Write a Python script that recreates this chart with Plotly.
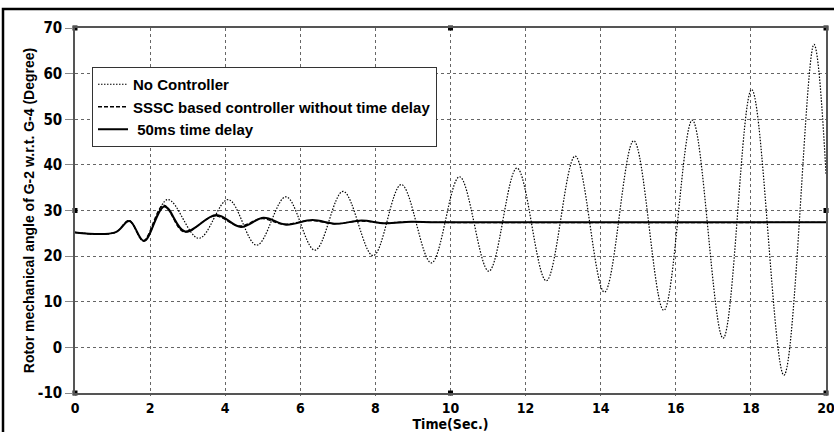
import plotly.graph_objects as go

# ---- data ----
t_noctrl = [0, 1.07, 1.44, 1.83, 2.47, 3.30, 4.08, 4.84, 5.62, 6.39, 7.14, 7.94, 8.69,
            9.49, 10.24, 11.02, 11.77, 12.55, 13.32, 14.10, 14.88, 15.68, 16.44, 17.26,
            18.02, 18.88, 19.68, 20.0]
y_noctrl = [25.2, 25.2, 27.8, 23.3, 32.4, 23.9, 32.4, 22.4, 33.0, 21.3, 34.2, 20.1, 35.7,
            18.5, 37.4, 16.7, 39.3, 14.6, 41.9, 12.1, 45.3, 8.1, 49.8, 2.0,
            56.5, -6.1, 66.4, 38.0]

t_sssc = [0, 1.07, 1.44, 1.82, 2.36, 2.90, 3.72, 4.38, 4.97, 5.55, 6.28, 6.92, 7.59,
          8.20, 8.90, 9.60, 20.0]
y_sssc = [25.2, 25.2, 27.8, 23.4, 31.2, 25.3, 28.8, 26.6, 28.2, 27.0, 27.8, 27.1, 27.7,
          27.25, 27.55, 27.4, 27.4]

t_delay = [0, 1.07, 1.45, 1.84, 2.38, 2.93, 3.76, 4.42, 5.02, 5.62, 6.32, 6.96, 7.63,
           8.25, 8.95, 9.65, 20.0]
y_delay = [25.2, 25.2, 27.7, 23.3, 30.9, 25.4, 29.0, 26.4, 28.4, 26.9, 27.9, 27.1, 27.8,
           27.2, 27.55, 27.4, 27.4]

handle_x = [0, 10, 20, 0, 20, 0, 10, 20]
handle_y = [70, 70, 70, 30, 30, -10, -10, -10]

x_ticks = [0, 2, 4, 6, 8, 10, 12, 14, 16, 18, 20]
y_ticks = [-10, 0, 10, 20, 30, 40, 50, 60, 70]

names = ["No Controller", "SSSC based controller without time delay", " 50ms time delay"]

NARROW = "Liberation Sans Narrow, DejaVu Sans Condensed, Liberation Sans, Arial"

fig = go.Figure()
fig.add_trace(go.Scatter(x=t_noctrl, y=y_noctrl, mode="lines", name=names[0],
                         line=dict(color="black", width=1.2, dash="1.5px,1.5px", shape="spline", smoothing=1.0)))
fig.add_trace(go.Scatter(x=t_sssc, y=y_sssc, mode="lines", name=names[1],
                         line=dict(color="black", width=1.3, dash="4px,2px", shape="spline", smoothing=1.0)))
fig.add_trace(go.Scatter(x=t_delay, y=y_delay, mode="lines", name=names[2],
                         line=dict(color="black", width=2, shape="spline", smoothing=1.0)))
fig.add_trace(go.Scatter(x=handle_x, y=handle_y, mode="markers", showlegend=False,
                         cliponaxis=False, hoverinfo="skip",
                         marker=dict(symbol="square", size=5, color="black")))

W, H = 834, 432
L, R, T, B = 75, 8, 28, 39
pw, ph = W - L - R, H - T - B

fig.update_layout(
    width=W, height=H,
    margin=dict(l=L, r=R, t=T, b=B, autoexpand=False),
    paper_bgcolor="white", plot_bgcolor="white",
    font=dict(family="Liberation Sans, Arial, sans-serif", color="black"),
    showlegend=True,
    legend=dict(x=(92 - L) / pw, y=1 - (67 - T) / ph, xanchor="left", yanchor="top",
                bgcolor="white", bordercolor="#333", borderwidth=1,
                font=dict(size=15, family="Liberation Sans, Arial, sans-serif", weight="bold"),
                tracegroupgap=0, itemwidth=30),
    xaxis=dict(range=[0, 20], tickvals=x_ticks, ticktext=[str(v) for v in x_ticks],
               showgrid=True, gridcolor="#666", griddash="dot", gridwidth=1,
               showline=True, linecolor="#555", linewidth=1.5, mirror=True,
               ticks="outside", ticklen=1, tickcolor="#666", zeroline=False, automargin=False,
               ticklabeloverflow="allow",
               tickfont=dict(size=14, family=NARROW, weight="bold"),
               title=dict(text="Time(Sec.)", standoff=0,
                          font=dict(size=14, family=NARROW, weight="bold"))),
    yaxis=dict(range=[-10, 70], tickvals=y_ticks, ticktext=[str(v) for v in y_ticks],
               showgrid=True, gridcolor="#666", griddash="dot", gridwidth=1,
               showline=True, linecolor="#555", linewidth=1.5, mirror=True,
               ticks="outside", ticklen=8, tickcolor="#888", zeroline=False, automargin=False,
               tickfont=dict(size=15, family=NARROW, weight="bold"),
               title=dict(text="Rotor mechanical angle of G-2 w.r.t. G-4 (Degree)", standoff=0,
                          font=dict(size=14, weight="bold"))),
    shapes=[dict(type="rect", xref="paper", yref="paper",
                 x0=(3 - L) / pw, x1=(W + 4 - L) / pw,
                 y0=1 - (H + 4 - T) / ph, y1=1 + (T - 9) / ph,
                 line=dict(color="black", width=2.5), layer="below")],
)

fig.write_html("out.html", config={"displayModeBar": False},
               post_script="document.body.style.margin='0';document.body.style.overflow='hidden';")
